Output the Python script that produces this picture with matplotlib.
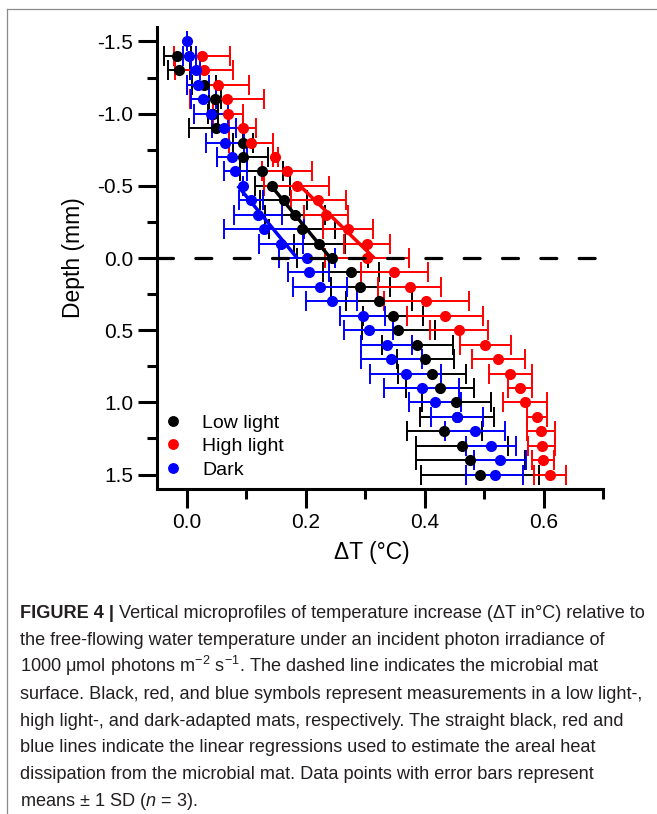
import numpy as np
import matplotlib
matplotlib.use('Agg')
import matplotlib.pyplot as plt
from matplotlib.lines import Line2D
from matplotlib.ticker import MultipleLocator, FormatStrFormatter
from matplotlib import font_manager

# ---------------- data ----------------
depth_low = [-1.4, -1.3, -1.2, -1.1, -1.0, -0.9, -0.8, -0.7, -0.6, -0.5, -0.4, -0.3, -0.2, -0.1, 0.0,
             0.1, 0.2, 0.3, 0.4, 0.5, 0.6, 0.7, 0.8, 0.9, 1.0, 1.1, 1.2, 1.3, 1.4, 1.5]
dT_low = [-0.016, -0.013, 0.029, 0.047, 0.044, 0.049, 0.095, 0.094, 0.126, 0.144, 0.163, 0.182, 0.194, 0.223, 0.245,
          0.276, 0.292, 0.323, 0.347, 0.356, 0.388, 0.401, 0.412, 0.426, 0.453, 0.454, 0.433, 0.463, 0.477, 0.493]
sd_low = [0.023, 0.019, 0.020, 0.010, 0.008, 0.046, 0.017, 0.043, 0.036, 0.029, 0.040, 0.050, 0.055, 0.043, 0.060,
          0.047, 0.049, 0.055, 0.051, 0.062, 0.060, 0.048, 0.057, 0.057, 0.058, 0.062, 0.063, 0.077, 0.091, 0.099]

depth_high = depth_low
dT_high = [0.026, 0.029, 0.052, 0.068, 0.070, 0.094, 0.108, 0.149, 0.168, 0.185, 0.221, 0.234, 0.271, 0.303, 0.303,
           0.349, 0.375, 0.403, 0.435, 0.458, 0.502, 0.524, 0.544, 0.561, 0.569, 0.589, 0.596, 0.597, 0.599, 0.611]
sd_high = [0.047, 0.049, 0.052, 0.062, 0.025, 0.023, 0.037, 0.004, 0.042, 0.055, 0.046, 0.037, 0.042, 0.039, 0.070,
           0.056, 0.053, 0.071, 0.064, 0.049, 0.043, 0.044, 0.036, 0.020, 0.037, 0.016, 0.023, 0.023, 0.019, 0.027]

depth_dark = [-1.5] + depth_low
dT_dark = [0.000, 0.004, 0.015, 0.019, 0.028, 0.041, 0.063, 0.064, 0.076, 0.082, 0.095, 0.108, 0.120, 0.130, 0.159, 0.202,
           0.205, 0.224, 0.244, 0.296, 0.306, 0.336, 0.344, 0.368, 0.395, 0.418, 0.454, 0.485, 0.511, 0.527, 0.518]
sd_dark = [0.000, 0.011, 0.008, 0.019, 0.021, 0.029, 0.020, 0.032, 0.025, 0.020, 0.000, 0.020, 0.040, 0.067, 0.037, 0.047,
           0.034, 0.046, 0.043, 0.038, 0.041, 0.043, 0.051, 0.059, 0.063, 0.044, 0.044, 0.051, 0.042, 0.044, 0.048]

labels = ['Low light', 'High light', 'Dark']
colors = ['#000000', '#ff0000', '#0000ff']
fit_range = (-0.5, 0.0)

y_ticks = [-1.5, -1.0, -0.5, 0.0, 0.5, 1.0, 1.5]
x_ticks = [0.0, 0.2, 0.4, 0.6]

caption_bold = "FIGURE 4 |"
caption_lines = [
    " Vertical microprofiles of temperature increase (\u0394T in\u00b0C) relative to",
    "the free-flowing water temperature under an incident photon irradiance of",
    "1000 \u03bcmol photons $\\mathregular{m^{-2}}$ $\\mathregular{s^{-1}}$. The dashed line indicates the microbial mat",
    "surface. Black, red, and blue symbols represent measurements in a low light-,",
    "high light-, and dark-adapted mats, respectively. The straight black, red and",
    "blue lines indicate the linear regressions used to estimate the areal heat",
    "dissipation from the microbial mat. Data points with error bars represent",
    "means \u00b1 1 SD ($\\mathit{n}$ = 3).",
]

# ---------------- style ----------------
names = {f.name for f in font_manager.fontManager.ttflist}
cap_family = 'Liberation Sans Narrow' if 'Liberation Sans Narrow' in names else 'Liberation Sans'

plt.rcParams['font.family'] = ['Liberation Sans', 'DejaVu Sans']
plt.rcParams['axes.unicode_minus'] = False
plt.rcParams['mathtext.fontset'] = 'custom'
plt.rcParams['mathtext.rm'] = cap_family
plt.rcParams['mathtext.it'] = cap_family + ':italic'

W, H = 657, 814
fig = plt.figure(figsize=(W / 100, H / 100), dpi=100)
ax_l, ax_r, ax_t, ax_b = 157, 603, 27, 489
ax = fig.add_axes([ax_l / W, 1 - ax_b / H, (ax_r - ax_l) / W, (ax_b - ax_t) / H])

series = [(depth_low, dT_low, sd_low), (depth_high, dT_high, sd_high), (depth_dark, dT_dark, sd_dark)]
for (d, x, s), c in zip(series, colors):
    ax.errorbar(x, d, xerr=s, fmt='o', color=c, ms=7.0, capsize=7, elinewidth=1.4,
                capthick=1.4, zorder=3)

for (d, x, s), c in zip(series, colors):
    d = np.asarray(d); x = np.asarray(x)
    m = (d >= fit_range[0] - 1e-9) & (d <= fit_range[1] + 1e-9)
    k, b = np.polyfit(d[m], x[m], 1)
    dd = np.array(fit_range)
    ax.plot(k * dd + b, dd, color=c, lw=2.5, zorder=4, solid_capstyle='butt')

ax.axhline(0.0, color='k', lw=2.3, dashes=(5, 7), dash_capstyle='round', zorder=5)

ax.set_xlim(-0.05, 0.70)
ax.set_ylim(1.6, -1.6)
ax.set_yticks(y_ticks)
ax.set_xticks(x_ticks)
ax.yaxis.set_minor_locator(MultipleLocator(0.25))
ax.xaxis.set_minor_locator(MultipleLocator(0.1))
ax.yaxis.set_major_formatter(FormatStrFormatter('%.1f'))
ax.xaxis.set_major_formatter(FormatStrFormatter('%.1f'))
for sp in ['top', 'right']:
    ax.spines[sp].set_visible(False)
for sp in ['left', 'bottom']:
    ax.spines[sp].set_linewidth(2.2)
ax.tick_params(which='major', direction='out', length=14, width=2.2, labelsize=15, pad=3)
ax.tick_params(which='minor', direction='out', length=7.5, width=2.2)

ax.set_ylabel('Depth (mm)', fontsize=16.5)
ax.yaxis.set_label_coords((85 - ax_l) / (ax_r - ax_l), 0.5)
ax.set_xlabel('\u0394T (\u00b0C)', fontsize=16.5)
ax.xaxis.set_label_coords((372 - ax_l) / (ax_r - ax_l), (ax_b - 541) / (ax_b - ax_t))

handles = [Line2D([], [], marker='o', ls='none', color=c, ms=6.8) for c in colors]
ax.legend(handles, labels, loc='upper left', bbox_to_anchor=(163 / W, 1 - 414 / H),
          bbox_transform=fig.transFigure, frameon=False, fontsize=14, handletextpad=1.0,
          labelspacing=0.31, borderpad=0, borderaxespad=0, handlelength=1.0)

# frame lines of the figure panel
fig.add_artist(Line2D([7 / W, 7 / W], [0, 1 - 9 / H], transform=fig.transFigure, color='#8a8a8a', lw=0.9))
fig.add_artist(Line2D([7 / W, 1], [1 - 9 / H, 1 - 9 / H], transform=fig.transFigure, color='#8a8a8a', lw=0.9))

# ---------------- caption ----------------
cap_color = '#231f20'
x0 = 20
base0 = 618
step = 26.9
f0 = 13.0
tb = fig.text(x0 / W, 1 - base0 / H, caption_bold, fontsize=f0, fontweight='bold',
              family=[cap_family, 'DejaVu Sans'], color=cap_color, va='baseline', ha='left')
tl = []
for i, line in enumerate(caption_lines):
    t = fig.text(x0 / W, 1 - (base0 + i * step) / H, line, fontsize=f0,
                 family=[cap_family, 'DejaVu Sans'], color=cap_color, va='baseline', ha='left')
    tl.append(t)
r = fig.canvas.get_renderer()
wb = tb.get_window_extent(r).width
w1 = tl[0].get_window_extent(r).width
scale = (643 - x0) / (wb + w1)
fs = f0 * scale
tb.set_fontsize(fs)
for t in tl:
    t.set_fontsize(fs)
wb = tb.get_window_extent(r).width
tl[0].set_x((x0 + wb) / W)

fig.savefig('out.png', dpi=100)
